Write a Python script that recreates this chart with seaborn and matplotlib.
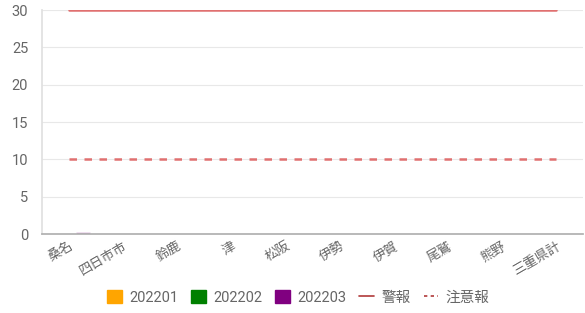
import matplotlib
matplotlib.use("Agg")
import matplotlib.pyplot as plt
import seaborn as sns
import pandas as pd
from matplotlib.patches import Patch
from matplotlib.lines import Line2D

categories = ["桑名", "四日市市", "鈴鹿", "津", "松阪", "伊勢", "伊賀", "尾鷲", "熊野", "三重県計"]
series_names = ["202201", "202202", "202203"]
v202201 = [0, 0, 0, 0, 0, 0, 0, 0, 0, 0]
v202202 = [0, 0, 0, 0, 0, 0, 0, 0, 0, 0]
v202203 = [0.25, 0, 0, 0, 0, 0, 0, 0, 0, 0.03]
alert_level = 30     # 警報
advisory_level = 10  # 注意報
colors = ["#FFA500", "#008000", "#800080"]
yticks = [0, 5, 10, 15, 20, 25, 30]

rows = []
for name, vals in zip(series_names, [v202201, v202202, v202203]):
    for c, v in zip(categories, vals):
        rows.append({"cat": c, "series": name, "value": v})
df = pd.DataFrame(rows)

sns.set_theme(style="white")
plt.rcParams["font.family"] = ["Roboto", "Noto Sans CJK JP", "DejaVu Sans"]

fig = plt.figure(figsize=(5.85, 3.13), dpi=100)
ax = fig.add_axes([0.072, 0.252, 0.925, 0.716])

sns.barplot(data=df, x="cat", y="value", hue="series", order=categories,
            hue_order=series_names, palette=colors, width=0.78, ax=ax,
            legend=False, errorbar=None, saturation=1, alpha=0.5)

n = len(categories)
xs = list(range(n))
ax.plot(xs, [alert_level] * n, color="#e07070", lw=1.8, zorder=3)
ax.plot(xs, [advisory_level] * n, color="#e07070", lw=1.8, ls=(0, (3, 3)), zorder=3)

ax.set_xlim(-0.5, n - 0.5)
ax.set_ylim(0, 30)
ax.set_yticks(yticks)
ax.set_yticklabels([str(t) for t in yticks])
ax.grid(axis="y", color="#e8e8e8", lw=0.8)
ax.set_axisbelow(True)
for s in ["top", "right"]:
    ax.spines[s].set_visible(False)
ax.spines["left"].set_color("#e0e0e0")
ax.spines["bottom"].set_color("#b0b0b0")
ax.set_xlabel("")
ax.set_ylabel("")
ax.tick_params(axis="y", length=8, color="#e0e0e0", labelsize=10.5, labelcolor="#666666", pad=2)
ax.tick_params(axis="x", length=0, labelsize=9.5, labelcolor="#666666", pad=4)
for lab in ax.get_xticklabels():
    lab.set_rotation(30)
    lab.set_ha("right")
    lab.set_rotation_mode("anchor")

handles = [Patch(facecolor=c, edgecolor=c) for c in colors]
handles += [Line2D([], [], color="#b03a3a", lw=1.2),
            Line2D([], [], color="#b03a3a", lw=1.2, ls=(0, (2, 2)))]
labels = series_names + ["警報", "注意報"]
leg = fig.legend(handles, labels, loc="center", bbox_to_anchor=(0.51, 0.05), ncol=5,
                 frameon=False, fontsize=10.5, handlelength=1.0, handleheight=1.0,
                 columnspacing=0.9, handletextpad=0.5, labelcolor="#666666")
leg.legend_handles[3].set_data([0, 18], [0, 0]) if False else None

fig.savefig("out.png", dpi=100)
